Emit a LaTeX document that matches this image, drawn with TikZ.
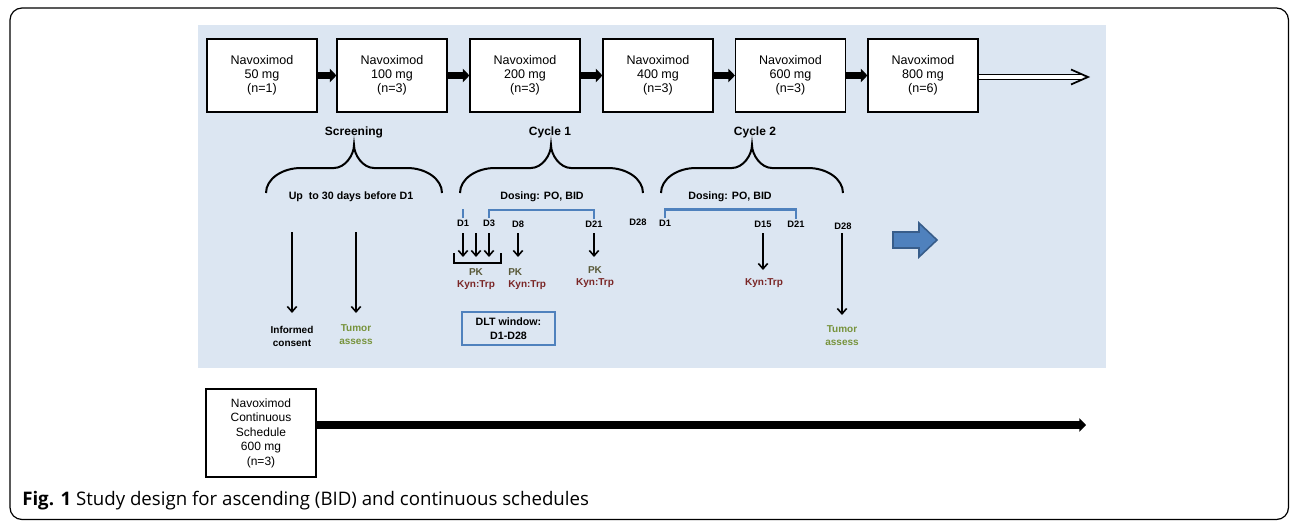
\documentclass[tikz,border=0pt]{standalone}
\usepackage{fontspec}
\setmainfont{Liberation Sans}
\newfontfamily\capfont{Open Sans}
\usetikzlibrary{arrows.meta,calc}
\definecolor{panelblue}{RGB}{220,230,242}
\definecolor{dosingblue}{RGB}{79,129,189}
\definecolor{arrowedge}{RGB}{56,93,138}
\definecolor{pkcolor}{RGB}{89,89,56}
\definecolor{kyncolor}{RGB}{122,38,38}
\definecolor{tumorgreen}{RGB}{119,147,60}
\tikzstyle{dosebox}=[draw,fill=white,line width=0.8pt,minimum width=82.5pt,minimum height=54.75pt,align=center,inner sep=0pt,font=\fontsize{9.4}{10.5}\selectfont]
\tikzstyle{steparrow}=[line width=5pt,-{Triangle[length=5pt,width=10pt]}]
\tikzstyle{openarrow}=[double,double distance=2.4pt,line width=1pt]
\tikzstyle{openhead}=[line width=1.3pt,line join=miter]
\tikzstyle{phase}=[font=\fontsize{9}{11}\selectfont\bfseries]
\tikzstyle{sublabel}=[font=\fontsize{8}{10}\selectfont\bfseries]
\tikzstyle{day}=[font=\fontsize{7}{8}\selectfont\bfseries,inner sep=1pt]
\tikzstyle{phasebrace}=[line width=1.5pt]
\tikzstyle{dosebar}=[dosingblue,line width=2pt]
\tikzstyle{dayarrow}=[line width=1.2pt,-{Straight Barb[length=4pt,width=7pt]}]
\tikzstyle{assay}=[font=\fontsize{7.5}{9.75}\selectfont\bfseries,inner sep=0pt,align=center]
\tikzstyle{bigarrow}=[fill=dosingblue,draw=arrowedge,line width=1.2pt]

\begin{document}
\begin{tikzpicture}[x=0.75pt,y=-0.75pt]

  \useasboundingbox (0,0) rectangle (1290,521);
  \draw[line width=0.9pt, rounded corners=9pt] (10,8) rectangle (1288.5,519.5);
  \fill[panelblue] (198,25) rectangle (1106,368);

  % ascending doses
  \foreach \x/\name/\dose/\n in {262/b50/50/1, 392/b100/100/3, 525/b200/200/3, 658/b400/400/3, 790.5/b600/600/3, 923/b800/800/6}
     \node[dosebox] (\name) at (\x,75.5) {Navoximod\\\dose\ mg\\(n=\n)};

  \foreach \source/\dest in {b50/b100, b100/b200, b200/b400, b400/b600, b600/b800}
     \draw[steparrow] (\source.east) -- (\dest.west);

  \coordinate (more) at (1088,77);
  \draw[openarrow] (b800.east |- more) -- ([shift={(-5,0)}]more);
  \draw[openhead] ([shift={(-17,-7.5)}]more) -- (more) -- ([shift={(-17,7.5)}]more);

  % phases
  \foreach \x/\name/\label in {354/screen/Screening, 550/cyc1/Cycle 1, 755/cyc2/Cycle 2}
     \node[phase] (\name) at (\x,132) {\label};

  \foreach \l/\m/\r in {266/354/442, 460/551/643, 661/752/843}
     \draw[phasebrace] (\l,193) .. controls (\l,179) and (\l+16,168) .. (\l+35,168)
        -- (\m-20,168) .. controls (\m-9,168) and (\m,155) .. (\m,145)
        .. controls (\m,155) and (\m+9,168) .. (\m+20,168)
        -- (\r-35,168) .. controls (\r-16,168) and (\r,179) .. (\r,193);

  \node[sublabel] (upto) at (351,197) {Up\ \ to 30 days before D1};
  \node[sublabel] (dose1) at (542,197) {Dosing: PO, BID};
  \node[sublabel] (dose2) at (730,197) {Dosing: PO, BID};

  % days
  \foreach \x/\y/\name/\label in {463/223/d1a/D1, 489/223/d3a/D3, 518/224/d8a/D8, 594/224/d21a/D21, 638/222/d28a/D28,
                                  665/223/d1b/D1, 763/224/d15b/D15, 796/224/d21b/D21, 843/226/d28b/D28}
     \node[day] (\name) at (\x,\y) {\label};
  \coordinate (d2a) at ($(d1a)!.5!(d3a)$);

  \draw[dosebar] (d1a.north) -- ++(0,-9);
  \draw[dosebar] (d3a.north) -- ++(0,-8) -| (d21a.north);
  \draw[dosebar] (d1b.north) -- ++(0,-9) -| (d21b.north);

  % assays
  \foreach \x/\y/\name/\label/\col in {476/272/pk1/PK/pkcolor, 476/285/kt1/Kyn:Trp/kyncolor,
                                       595/270/pk3/PK/pkcolor, 595/283/kt3/Kyn:Trp/kyncolor,
                                       764/283/kt4/Kyn:Trp/kyncolor}
     \node[assay,text=\col] (\name) at (\x,\y) {\label};
  \node[assay,text=pkcolor,anchor=west] (pk2) at (508,272) {PK};
  \node[assay,text=kyncolor,anchor=west] (kt2) at (508,285) {Kyn:Trp};

  \node[assay] (consent) at (292,336) {Informed\\consent};
  \node[assay,text=tumorgreen] (tumor1) at (356,335) {Tumor\\assess};
  \node[assay,text=tumorgreen] (tumor2) at (842,336) {Tumor\\assess};

  \coordinate (armtop) at (0,233);
  \coordinate (pkbar) at (0,257);
  \coordinate (kynbot) at (0,270);
  \coordinate (scrtop) at (0,232);
  \coordinate (scrbot) at (0,313);
  \coordinate (d28bot) at (0,315);

  \foreach \name in {d1a, d2a, d3a, d8a, d21a}
     \draw[dayarrow] (\name |- armtop) -- (\name |- pkbar);
  \draw[dayarrow] (d15b |- armtop) -- (d15b |- kynbot);
  \draw[dayarrow] (tumor2 |- armtop) -- (tumor2 |- d28bot);
  \draw[dayarrow] (consent |- scrtop) -- (consent |- scrbot);
  \draw[dayarrow] (tumor1 |- scrtop) -- (tumor1 |- scrbot);

  \draw[line width=1.1pt] (454,253) -- (454,263) -- (501,263) -- (501,253);

  \node[draw=dosingblue,line width=1.5pt,minimum width=69.75pt,minimum height=24.75pt,align=center,inner sep=0pt,
        font=\fontsize{8}{10.5}\selectfont\bfseries] (dlt) at (508.5,328.5) {DLT window:\\D1-D28};

  \draw[bigarrow] (893,232) -- (919,232) -- (919,223) -- (937,240) -- (919,257) -- (919,248) -- (893,248) -- cycle;

  % continuous schedule
  \node[dosebox,minimum height=66pt,font=\fontsize{9}{10.9}\selectfont] (contbox) at (261,433) {Navoximod\\Continuous\\Schedule\\600 mg\\(n=3)};
  \coordinate (contend) at (1086,425);
  \draw[line width=6pt,-{Triangle[length=5pt,width=10pt]}] (contbox.east |- contend) -- (contend);

  \node[anchor=west,inner sep=0pt,font=\capfont\fontsize{14}{16}\selectfont] (caption) at (22,501) {\textbf{Fig. 1} Study design for ascending (BID) and continuous schedules};

\end{tikzpicture}
\end{document}
